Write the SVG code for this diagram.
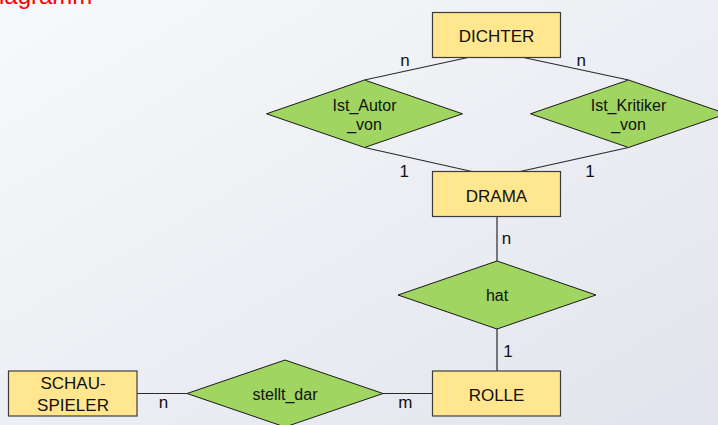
<svg xmlns="http://www.w3.org/2000/svg" width="718" height="425" viewBox="0 0 718 425">
<defs>
<linearGradient id="bg" x1="0" y1="0" x2="1" y2="1">
<stop offset="0" stop-color="#f8f9fb"/>
<stop offset="1" stop-color="#e1e4ec"/>
</linearGradient>
</defs>
<style>
.ent rect{fill:#ffe68f;stroke:#3c3c3c;stroke-width:1.2}
.rel polygon{fill:#9fd560;stroke:#1a1a1a;stroke-width:1}
text{font-family:"Liberation Sans",Arial,sans-serif;fill:#111}
.et{font-size:17px;text-anchor:middle}
.rt{font-size:16px;text-anchor:middle}
.lbl{font-size:17px;text-anchor:middle}
#connectors line{stroke:#2a2a2a;stroke-width:1.2}
.title{font-size:24px;fill:#ff0000}
</style>
<rect x="0" y="0" width="718" height="425" fill="url(#bg)"/>
<text class="title" x="-1" y="4">iagramm</text>

<g id="connectors">
<line x1="468" y1="57.5" x2="364.5" y2="80"/>
<line x1="523.5" y1="57.5" x2="628.5" y2="80"/>
<line x1="364.5" y1="147.5" x2="472" y2="171.5"/>
<line x1="628.5" y1="147.5" x2="520" y2="171.5"/>
<line x1="497" y1="216.5" x2="497" y2="261"/>
<line x1="497" y1="329" x2="497" y2="371"/>
<line x1="137" y1="393.5" x2="187" y2="393.5"/>
<line x1="383" y1="393.5" x2="432.5" y2="393.5"/>
<text class="lbl" x="405" y="66">n</text>
<text class="lbl" x="581.2" y="66">n</text>
<text class="lbl" x="404.2" y="176.7">1</text>
<text class="lbl" x="590" y="176.7">1</text>
<text class="lbl" x="506.5" y="244">n</text>
<text class="lbl" x="508" y="356.7">1</text>
<text class="lbl" x="163.5" y="408.3">n</text>
<text class="lbl" x="405.3" y="408.3">m</text>
</g>

<g id="dichter" class="ent">
<rect x="432.5" y="12.5" width="128" height="45"/>
<text class="et" x="496.5" y="42">DICHTER</text>
</g>
<g id="drama" class="ent">
<rect x="432.5" y="171.5" width="128" height="45"/>
<text class="et" x="496.5" y="201.5">DRAMA</text>
</g>
<g id="rolle" class="ent">
<rect x="432.5" y="371" width="128" height="45"/>
<text class="et" x="496.5" y="400.5">ROLLE</text>
</g>
<g id="schauspieler" class="ent">
<rect x="8.5" y="371" width="128.5" height="45"/>
<text class="et" x="73" y="389">SCHAU-</text>
<text class="et" x="73" y="410.5">SPIELER</text>
</g>

<g id="ist_autor_von" class="rel">
<polygon points="266.5,113.8 364.5,80 462.5,113.8 364.5,147.5"/>
<text class="rt" x="364.5" y="111">Ist_Autor</text>
<text class="rt" x="364.5" y="130">_von</text>
</g>
<g id="ist_kritiker_von" class="rel">
<polygon points="530.5,113.8 628.5,80 726.5,113.8 628.5,147.5"/>
<text class="rt" x="628.5" y="111">Ist_Kritiker</text>
<text class="rt" x="628.5" y="130">_von</text>
</g>
<g id="hat" class="rel">
<polygon points="398,295 497,261 596,295 497,329"/>
<text class="rt" x="497" y="301">hat</text>
</g>
<g id="stellt_dar" class="rel">
<polygon points="187,393.5 285,360 383,393.5 285,427"/>
<text class="rt" x="285" y="400">stellt_dar</text>
</g>
</svg>
